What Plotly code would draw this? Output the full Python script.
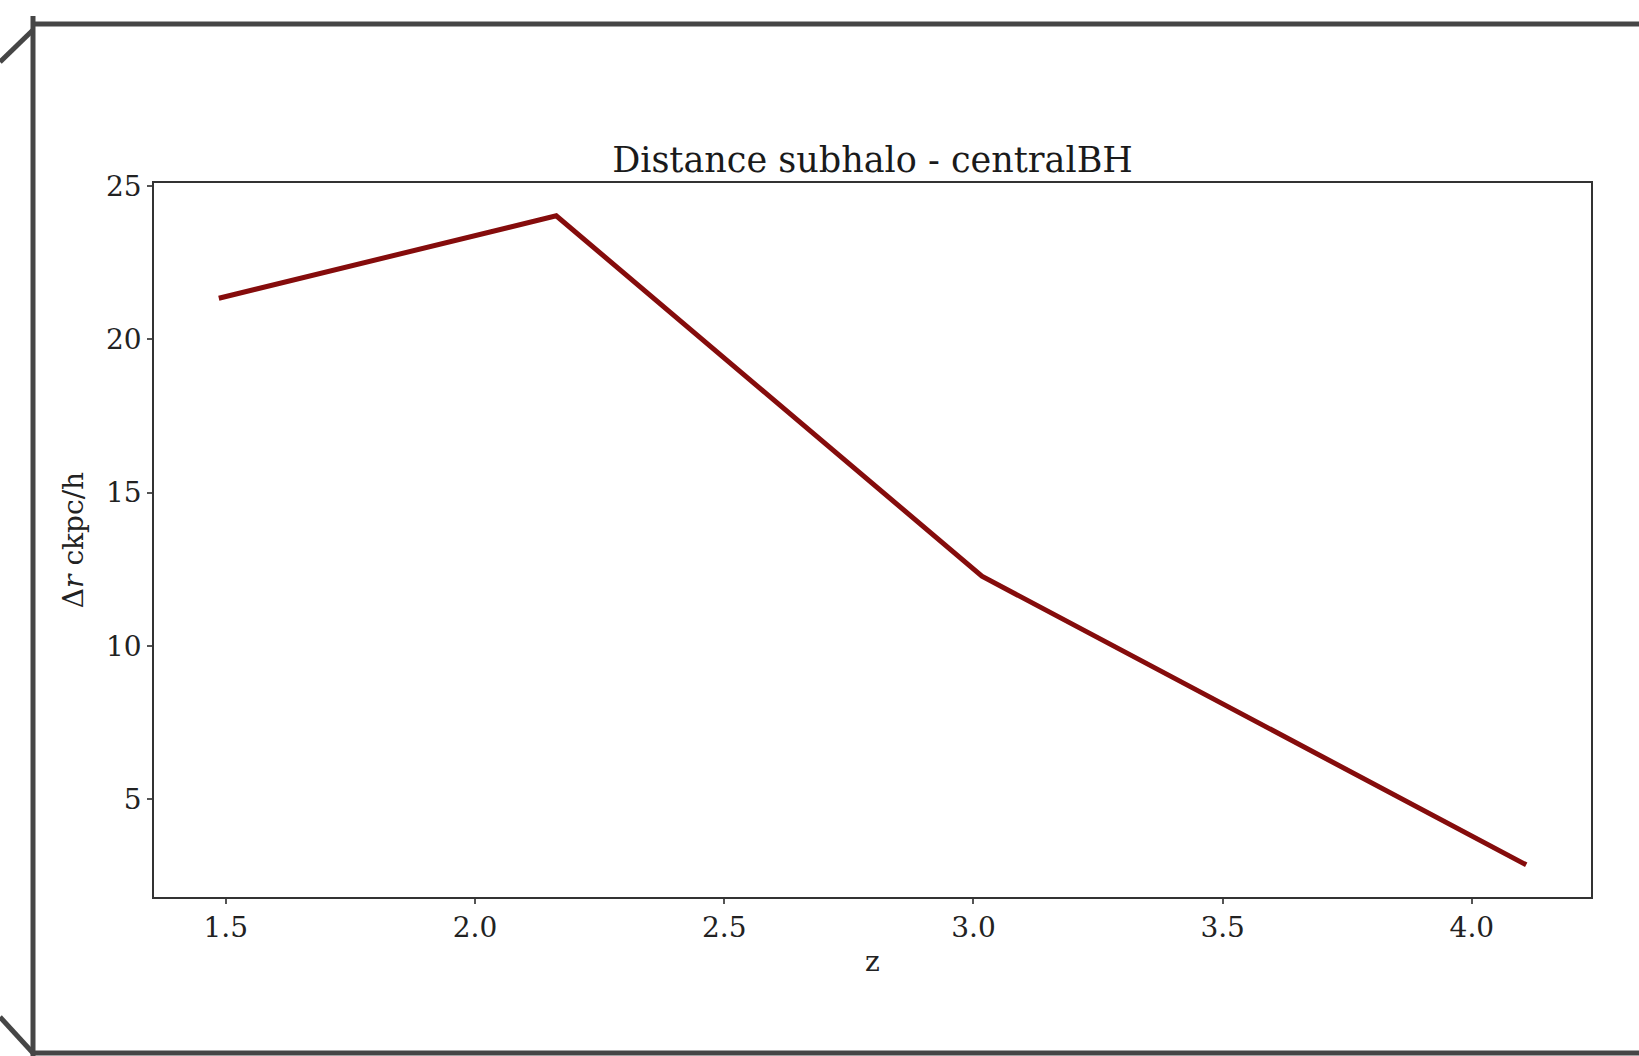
import plotly.graph_objects as go

# Data
z_values = [1.486, 2.163, 3.017, 4.109]
delta_r = [21.34, 24.03, 12.27, 2.85]

x_tickvals = [1.5, 2.0, 2.5, 3.0, 3.5, 4.0]
y_tickvals = [5, 10, 15, 20, 25]

W, H = 1639, 1056
L, R, T, B = 154, 1591, 183, 897  # plot area pixel box

FONT = "DejaVu Serif"
frame_color = "#464646"

fig = go.Figure()
fig.add_trace(go.Scatter(
    x=z_values, y=delta_r, mode="lines",
    line=dict(color="#850c0c", width=5),
    showlegend=False,
))

def px2paper(px, py):
    return (px - L) / (R - L), (B - py) / (B - T)

frame_segments = [
    ((33, 24), (1639, 24)),
    ((33, 16), (33, 1056)),
    ((33, 1053), (1639, 1053)),
    ((0, 62), (33, 30)),
    ((0, 1017), (33, 1053)),
]
shapes = []
for (x0, y0), (x1, y1) in frame_segments:
    a0, b0 = px2paper(x0, y0)
    a1, b1 = px2paper(x1, y1)
    shapes.append(dict(type="line", xref="paper", yref="paper",
                       x0=a0, y0=b0, x1=a1, y1=b1,
                       line=dict(color=frame_color, width=5)))

fig.update_layout(
    width=W, height=H,
    margin=dict(l=L, r=W - R, t=T, b=H - B, pad=0),
    paper_bgcolor="white", plot_bgcolor="white",
    font=dict(family=FONT, size=28, color="#222222"),
    title=dict(text="Distance subhalo - centralBH", x=0.5, xref="paper",
               xanchor="center", y=1 - 160 / H, yanchor="middle",
               font=dict(family=FONT, size=35, color="#1a1a1a")),
    shapes=shapes,
    xaxis=dict(
        range=[1.356, 4.239], tickvals=x_tickvals, tickformat=".1f",
        showline=True, mirror=True, linecolor="#333333", linewidth=1.5,
        ticks="outside", ticklen=5, tickcolor="#555555", tickwidth=1.5,
        showgrid=False, zeroline=False,
        tickfont=dict(family=FONT, size=28, color="#222222"),
        title=dict(text="z", standoff=8,
                   font=dict(family=FONT, size=28, color="#222222")),
    ),
    yaxis=dict(
        range=[1.8, 25.1], tickvals=y_tickvals,
        showline=True, mirror=True, linecolor="#333333", linewidth=1.5,
        ticks="outside", ticklen=5, tickcolor="#555555", tickwidth=1.5,
        showgrid=False, zeroline=False,
        tickfont=dict(family=FONT, size=28, color="#222222"),
        title=dict(text="Δ<i>r</i> ckpc/h", standoff=14,
                   font=dict(family=FONT, size=28, color="#222222")),
    ),
)

fig.write_html("out.html")
